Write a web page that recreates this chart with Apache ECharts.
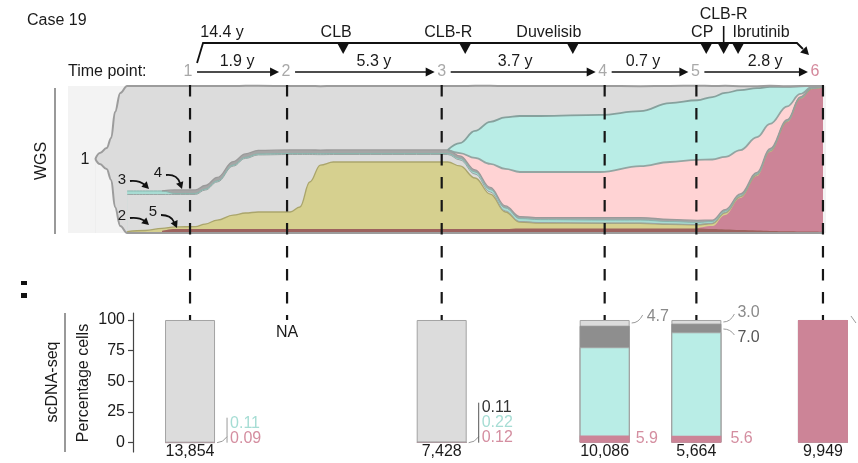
<!DOCTYPE html>
<html>
<head>
<meta charset="utf-8">
<script src="https://cdn.jsdelivr.net/npm/echarts@6/dist/echarts.min.js"></script>
<style>
  html, body { margin: 0; padding: 0; background: #fff; }
  #chart { width: 858px; height: 463px; }
</style>
</head>
<body>
<div id="chart"></div>
<script>
// ---------------- data ----------------
// Sampling positions along the fish plot (0-100 across the panel)
const timePointPos = [16.1, 28.9, 49.3, 70.8, 82.9, 99.6];
const timePointLabels = ['1', '2', '3', '4', '5', '6'];
const intervalLabels = ['1.9 y', '5.3 y', '3.7 y', '0.7 y', '2.8 y'];
const totalSpanLabel = '14.4 y';
const treatmentNames = ['CLB', 'CLB-R', 'Duvelisib', 'CP', 'CLB-R', 'Ibrutinib'];
const treatmentPos = [36.3, 52.4, 66.6, 84.2, 86.5, 88.4];

// Fish plot: clone sizes (% of panel height) at each position, bottom to top
const fishX = [3.6, 4.2, 5.1, 5.7, 6.2, 6.9, 7.8, 10.2, 12.4, 14.1, 16.8, 18.1, 19.7, 21.8, 23.4, 25.1,
  29.3, 30.6, 31.9, 33.3, 35.0, 47.8, 50.1, 51.7, 53.7, 55.7, 57.7, 59.6, 62.3, 70.2, 75.5, 79.4,
  83.0, 85.0, 86.7, 88.7, 90.9, 92.6, 94.9, 96.6, 98.2, 99.6];
const N = null;
const fishBase = [50.3, 46.9, 43.5, 36.1, 17.7, 4.8, 0, 0, 0, 0, 0, 0, 0, 0, 0, 0, 0, 0, 0, 0, 0, 0,
  0, 0, 0, 0, 0, 0, 0, 0, 0, 0, 0, 0, 0, 0, 0, 0, 0, 0, 0, 0];
const fishClone5 = [N, N, N, N, N, N, N, N, 1.4, 2.7, 2.7, 2.7, 2.7, 2.7, 2.7, 2.7, 2.7, 2.7, 2.7, 2.7,
  2.7, 2.7, 2.7, 2.7, 2.7, 2.7, 2.7, 3.1, 3.1, 3.1, 3.1, 3.1, 3.1, 2.7, 2.4, 2.0, 1.7, 1.4, 1.2, 1.1, 1.0, 0.8];
const fishClone6 = [N, N, N, N, N, N, N, N, N, N, N, N, N, N, N, N, N, N, N, N, N, N, N, N, N, N, N,
  N, N, N, N, N, 0, 2.0, 9.9, 21.8, 37.1, 53.7, 74.3, 90.1, 97.0, 98.2];
const fishClone2 = [N, N, N, N, N, N, 1.0, 1.7, 1.7, 1.4, 1.7, 3.4, 6.1, 9.5, 10.9, 11.6, 11.6, 15.0,
  32.0, 43.5, 45.6, 45.6, 45.6, 42.9, 34.7, 23.8, 11.6, 4.4, 3.7, 3.4, 3.4, 2.7, 2.4, 1.7, 1.4, 1.0,
  0.8, 0.7, 0.5, 0.4, 0.3, 0.2];
const fishClone1Mid = [N, N, N, N, N, N, 25.2, 24.5, 23.1, 22.1, 21.8, 23.1, 25.9, 33.3, 37.1, 38.8,
  39.1, 35.7, 18.7, 7.1, 5.1, 5.1, 5.1, 4.1, 2.7, 1.4, 0.7, 0.3, 0.3, 0.3, 0.3, 0.3, 0.3, 0.2, 0.2,
  0.1, 0.1, 0.1, 0.1, 0.1, 0.1, 0.1];
const fishClone3 = [N, N, N, N, N, N, 2.4, 2.4, 2.4, 0.7, 0.7, 0.7, 0.7, 0.7, 0.7, 0.7, 0.7, 0.7, 0.7,
  0.7, 0.7, 0.7, 0.7, 1.0, 1.4, 1.7, 2.0, 2.0, 2.0, 2.0, 2.0, 1.7, 1.4, 1.2, 1.0, 0.9, 0.8, 0.7, 0.5,
  0.4, 0.3, 0.2];
const fishClone4 = [N, N, N, N, N, N, N, N, 0, 2.4, 2.4, 2.4, 2.4, 2.4, 2.4, 2.4, 2.4, 2.4, 2.4, 2.4,
  2.4, 2.4, 2.4, 1.7, 1.4, 1.4, 1.4, 1.4, 1.4, 1.7, 1.7, 1.4, 1.4, 1.0, 1.0, 0.8, 0.8, 0.7, 0.5, 0.5,
  0.3, 0.2];
const fishPink = [N, N, N, N, N, N, N, N, N, N, N, N, N, N, N, N, N, N, N, N, N, N, 0, 2.0, 8.2, 16.0,
  25.2, 30.3, 31.0, 31.0, 35.0, 39.1, 41.2, 41.2, 35.9, 29.8, 23.9, 16.9, 9.1, 2.0, 0.5, 0.1];
const fishTeal = [N, N, N, N, N, N, N, N, N, N, N, N, N, N, N, N, N, N, N, N, N, N, 0, 6.8, 18.4, 28.6,
  35.0, 38.1, 38.1, 38.8, 37.4, 40.1, 40.5, 42.5, 43.5, 40.8, 33.3, 25.2, 13.3, 5.2, 0.4, 0.1];
const fishClone1Top = [0, 7.5, 14.3, 28.6, 64.6, 90.5, 71.4, 71.4, 71.4, 70.7, 70.7, 67.7, 62.2, 51.4,
  46.3, 43.9, 43.5, 43.5, 43.5, 43.5, 43.5, 43.5, 43.5, 38.8, 30.6, 24.5, 21.4, 20.4, 20.4, 19.7, 17.0,
  11.6, 9.9, 7.5, 4.8, 2.7, 1.4, 0.7, 0.3, 0.2, 0.1, 0.1];

// scDNA-seq (% of cells) at the sampled time points (index into timePointPos)
const scTimePoint = [0, 2, 3, 4, 5];
const scCellCounts = ['13,854', '7,428', '10,086', '5,664', '9,949'];
const scRed = [0.09, 0.12, 5.9, 5.6, 100];
const scTeal = [0.11, 0.22, 71.9, 84.4, 0];
const scDarkGray = [0, 0.11, 17.5, 7.0, 0];
const scLightGray = [99.8, 99.55, 4.7, 3.0, 0];
const percentTicks = [0, 25, 50, 75, 100];

// ---------------- layout & styles ----------------
const FONT = '"Liberation Sans", Arial, Helvetica, sans-serif';
const FISH = { left: 68, top: 86, width: 758, height: 147 };
const UNIT = FISH.width / 100;
const BAR = { left: 133, right: 850, top: 313, bottom: 452, yMin: -7.6, yMax: 105.7 };
const OVERLAY = { top: 85, bottom: 320 };
const SMOOTH = 0.4;

const fishLayers = [
  { data: fishBase, fill: '#f3f3f3', edge: '#9c9c9c', w: 2 },
  { data: fishClone5, fill: '#9d625e' },
  { data: fishClone6, fill: '#cc8497' },
  { data: fishClone2, fill: '#d6d08f', edge: '#aaa56c', w: 1.3 },
  { data: fishClone1Mid, fill: '#dcdcdc', edge: '#9ba5a3', w: 1 },
  { data: fishClone3, fill: '#a8dcd3', edge: '#89b4ac', w: 1 },
  { data: fishClone4, fill: '#a6a6a6', edge: '#9a9a9a', w: 1.3 },
  { data: fishPink, fill: '#ffd3d4', edge: '#93a5a2', w: 1.8 },
  { data: fishTeal, fill: '#b9ede6', edge: '#86a19d', w: 1.8 },
  { data: fishClone1Top, fill: '#dcdcdc', edge: '#9c9c9c', w: 2 }
];

// cumulative upper boundary of every layer
const running = fishX.map(() => 0);
const fishCum = fishLayers.map(layer => layer.data.map((v, i) => {
  if (v == null) return null;
  running[i] += v;
  return +running[i].toFixed(2);
}));
const toPoints = arr => fishX.map((x, i) => [x, arr[i] == null ? '-' : arr[i]]);

const series = [];
// areas painted from the outermost boundary inward
for (let k = fishLayers.length - 1; k >= 0; k--) {
  series.push({
    type: 'line', xAxisIndex: 0, yAxisIndex: 0, data: toPoints(fishCum[k]),
    smooth: SMOOTH, smoothMonotone: 'x', symbol: 'none', clip: false, silent: true,
    lineStyle: { width: 0, opacity: 0 },
    areaStyle: { color: fishLayers[k].fill, opacity: 1 }, z: 1
  });
}
// clone outlines on top
fishLayers.forEach((layer, k) => {
  if (!layer.edge) return;
  series.push({
    type: 'line', xAxisIndex: 0, yAxisIndex: 0, data: toPoints(fishCum[k]),
    smooth: SMOOTH, smoothMonotone: 'x', symbol: 'none', clip: false, silent: true,
    lineStyle: { color: layer.edge, width: layer.w }, z: 2
  });
});
// dashed time point guides
timePointPos.forEach(t => {
  series.push({
    type: 'line', xAxisIndex: 2, yAxisIndex: 2, data: [[t, 1], [t, 0]],
    symbol: 'none', silent: true, clip: false,
    lineStyle: { color: '#161616', width: 2.2, type: [11.5, 11.5] }, z: 5
  });
});
// scDNA-seq bars: each drawn from 0 to its cumulative top, inner segments painted over
const scSegments = [
  { vals: scLightGray, color: '#dcdcdc', border: '#a3a3a3', bw: 1 },
  { vals: scDarkGray, color: '#8e8e8e', border: '#8e8e8e', bw: 1 },
  { vals: scTeal, color: '#b9ede6', border: '#a3a3a3', bw: 1 },
  { vals: scRed, color: '#cc8497', border: '#cc8497', bw: 0 }
];
scSegments.forEach((seg, s) => {
  const data = scTimePoint.map((tp, j) => {
    let top = 0;
    for (let q = s; q < scSegments.length; q++) top += scSegments[q].vals[j];
    return [timePointPos[tp], +top.toFixed(3)];
  });
  series.push({
    type: 'bar', xAxisIndex: 1, yAxisIndex: 1, data, barWidth: 50, barGap: '-100%',
    silent: true,
    itemStyle: { color: seg.color, borderColor: seg.border, borderWidth: seg.bw }, z: 2
  });
});

const chart = echarts.init(document.getElementById('chart'), null, { renderer: 'canvas' });
const hiddenX = (grid, min, max) => ({ type: 'value', gridIndex: grid, min, max, show: false });
chart.setOption({
  animation: false,
  backgroundColor: '#ffffff',
  grid: [
    { left: FISH.left, top: FISH.top, width: FISH.width, height: FISH.height,
      show: true, backgroundColor: '#f3f3f3', borderWidth: 0 },
    { left: BAR.left, top: BAR.top, width: BAR.right - BAR.left, height: BAR.bottom - BAR.top },
    { left: FISH.left, top: OVERLAY.top, width: FISH.width, height: OVERLAY.bottom - OVERLAY.top }
  ],
  xAxis: [
    hiddenX(0, 0, 100),
    hiddenX(1, (BAR.left - FISH.left) / UNIT, (BAR.right - FISH.left) / UNIT),
    hiddenX(2, 0, 100)
  ],
  yAxis: [
    { type: 'value', min: 0, max: 100, show: false, gridIndex: 0 },
    { type: 'value', gridIndex: 1, min: BAR.yMin, max: BAR.yMax,
      splitLine: { show: false },
      axisLine: { show: true, lineStyle: { color: '#444', width: 1.2 } },
      axisTick: { show: true, length: 5, customValues: percentTicks, lineStyle: { color: '#444', width: 1.2 } },
      axisLabel: { customValues: percentTicks, margin: 8, color: '#1a1a1a', fontSize: 16, fontFamily: FONT } },
    { type: 'value', min: 0, max: 1, show: false, gridIndex: 2 }
  ],
  series
});

// ---------------- annotations ----------------
const X = v => chart.convertToPixel({ xAxisIndex: 0 }, v);
const YB = v => chart.convertToPixel({ yAxisIndex: 1 }, v);
const G = [];
function text(x, y, s, o) {
  o = o || {};
  const align = o.align || 'center';
  G.push({ type: 'text', x, y, rotation: o.rot || 0, silent: true, z: 20,
    style: { text: s, font: (o.size || 16) + 'px ' + FONT, fill: o.color || '#1a1a1a',
      align, verticalAlign: 'middle', textAlign: align, textVerticalAlign: 'middle' } });
}
function poly(points, o) {
  o = o || {};
  G.push({ type: 'polyline', silent: true, z: 20, shape: { points },
    style: { stroke: o.color || '#111', lineWidth: o.w || 1.6, fill: null, lineCap: 'butt' } });
}
function curve(p0, cp, p1, o) {
  o = o || {};
  G.push({ type: 'bezierCurve', silent: true, z: 20,
    shape: { x1: p0[0], y1: p0[1], cpx1: cp[0], cpy1: cp[1], x2: p1[0], y2: p1[1] },
    style: { stroke: o.color || '#111', lineWidth: o.w || 1.6, fill: null } });
}
function head(tip, dir, len, hw, color) {
  const m = Math.hypot(dir[0], dir[1]);
  const ux = dir[0] / m, uy = dir[1] / m;
  const bx = tip[0] - ux * len, by = tip[1] - uy * len;
  G.push({ type: 'polygon', silent: true, z: 20,
    shape: { points: [tip, [bx - uy * hw, by + ux * hw], [bx + uy * hw, by - ux * hw]] },
    style: { fill: color || '#111' } });
}

// title
text(27, 21, 'Case 19', { align: 'left' });

// overall span with treatments
const tpX = timePointPos.map(X);
const spanStart = tpX[0] + 7, spanEnd = tpX[5] - 26, spanY = 43;
poly([[spanStart, 63], [spanStart + 6, spanY], [spanEnd, spanY], [spanEnd + 6, spanY + 6]], { w: 1.8 });
head([spanEnd + 12, spanY + 12], [1, 1], 8, 4.5);
text(spanStart + 25, 33, totalSpanLabel);

const treatLabelDx = [-7, -17, -24, -4, 0, 23];
const treatLabelY = [33, 33, 33, 33, 15, 33];
treatmentPos.forEach((p, i) => {
  const tx = X(p);
  G.push({ type: 'polygon', silent: true, z: 20,
    shape: { points: [[tx - 6, spanY], [tx + 6, spanY], [tx, spanY + 11]] }, style: { fill: '#111' } });
  text(tx + treatLabelDx[i], treatLabelY[i], treatmentNames[i]);
});
poly([[X(treatmentPos[4]), 26], [X(treatmentPos[4]), spanY]], { w: 1.6 });

// time point row
const rowY = 72;
text(68, rowY, 'Time point:', { align: 'left' });
const tpLabelDx = [-2, -1, 0, -2, -1, -8];
const tpLabelX = tpX.map((x, i) => x + tpLabelDx[i]);
tpLabelX.forEach((x, i) => text(x, rowY, timePointLabels[i], { color: i === 5 ? '#d4899c' : '#a9a9a9' }));
const intervalDx = [-1, 9, -8, -7, 9];
for (let i = 0; i < 5; i++) {
  const x1 = tpLabelX[i] + 9, x2 = tpLabelX[i + 1] - 7;
  poly([[x1, rowY], [x2 - 7, rowY]], { w: 1.6 });
  head([x2, rowY], [1, 0], 9, 4.5);
  text((x1 + x2) / 2 + intervalDx[i], 62, intervalLabels[i]);
}

// WGS panel labels
text(42, 161, 'WGS', { rot: Math.PI / 2 });
poly([[55, 88], [55, 234]], { color: '#777', w: 1.5 });
text(85, 160, '1');
const hooks = [
  { t: '3', at: [122, 180], p0: [130, 181], cp: [139, 180], p1: [145, 185], tip: [149, 189], dir: [1, 1] },
  { t: '4', at: [158, 173], p0: [166, 175], cp: [177, 174], p1: [180, 183], tip: [182, 189], dir: [0.35, 1] },
  { t: '2', at: [122, 216], p0: [130, 218], cp: [139, 217], p1: [145, 221], tip: [149, 225], dir: [1, 0.9] },
  { t: '5', at: [153, 212], p0: [161, 215], cp: [171, 215], p1: [174, 222], tip: [177, 228], dir: [0.45, 1] }
];
hooks.forEach(h => {
  text(h.at[0], h.at[1], h.t, { size: 15 });
  curve(h.p0, h.cp, h.p1, { w: 1.8 });
  head(h.tip, h.dir, 7, 3.8);
});

// scDNA-seq panel labels
G.push({ type: 'rect', silent: true, z: 20, shape: { x: 21, y: 281, width: 6, height: 4 }, style: { fill: '#111' } });
G.push({ type: 'rect', silent: true, z: 20, shape: { x: 21, y: 293, width: 6, height: 5 }, style: { fill: '#111' } });
text(53, 382, 'scDNA-seq', { rot: Math.PI / 2 });
poly([[65, 313], [65, 452]], { color: '#777', w: 1.5 });
text(84, 383, 'Percentage cells', { rot: Math.PI / 2 });
text(X(timePointPos[1]), 333, 'NA');

const y0 = YB(0), y100 = YB(100);
const TEAL_TXT = '#a6ddd4', RED_TXT = '#d48ea0', GRAY_TXT = '#8a8a8a', LINK = '#9a9a9a';
const fmt = (v, d) => v.toFixed(d);
scTimePoint.forEach((tp, j) => {
  const bx = X(timePointPos[tp]);
  const r = bx + 25;
  text(bx, 452, scCellCounts[j]);
  if (j === 0) {
    curve([r + 2, y0], [r + 8, y0], [r + 12, y0 - 6], { color: LINK, w: 1 });
    poly([[r + 12, y0], [r + 12, y0 - 25]], { color: LINK, w: 1 });
    text(r + 15, y0 - 19, fmt(scTeal[j], 2), { align: 'left', color: TEAL_TXT });
    text(r + 15, y0 - 4.5, fmt(scRed[j], 2), { align: 'left', color: RED_TXT });
  } else if (j === 1) {
    curve([r + 2, y0], [r + 8, y0], [r + 12, y0 - 6], { color: LINK, w: 1 });
    poly([[r + 12, y0], [r + 12, y0 - 40]], { color: '#555', w: 1 });
    text(r + 15, y0 - 35, fmt(scDarkGray[j], 2), { align: 'left', color: '#333' });
    text(r + 15, y0 - 20, fmt(scTeal[j], 2), { align: 'left', color: TEAL_TXT });
    text(r + 15, y0 - 5, fmt(scRed[j], 2), { align: 'left', color: RED_TXT });
  } else if (j === 2) {
    curve([r + 2, y100 + 3], [r + 9, y100 + 3], [r + 13, y100 - 5], { color: LINK, w: 1 });
    text(r + 17, y100 - 3, fmt(scLightGray[j], 1), { align: 'left', color: GRAY_TXT });
    text(r + 6, y0 - 4.5, fmt(scRed[j], 1), { align: 'left', color: RED_TXT });
  } else if (j === 3) {
    curve([r + 2, y100 + 2], [r + 9, y100 + 2], [r + 13, y100 - 6], { color: LINK, w: 1 });
    text(r + 16, y100 - 7, fmt(scLightGray[j], 1), { align: 'left', color: GRAY_TXT });
    curve([r + 2, y100 + 9], [r + 9, y100 + 9], [r + 13, y100 + 15], { color: LINK, w: 1 });
    text(r + 16, y100 + 18, fmt(scDarkGray[j], 1), { align: 'left', color: '#555' });
    text(r + 9, y0 - 4.5, fmt(scRed[j], 1), { align: 'left', color: RED_TXT });
  } else {
    poly([[r + 3, y100 - 4], [r + 8, y100 + 3]], { color: LINK, w: 1 });
  }
});

chart.setOption({ graphic: { elements: G } });
</script>
</body>
</html>
